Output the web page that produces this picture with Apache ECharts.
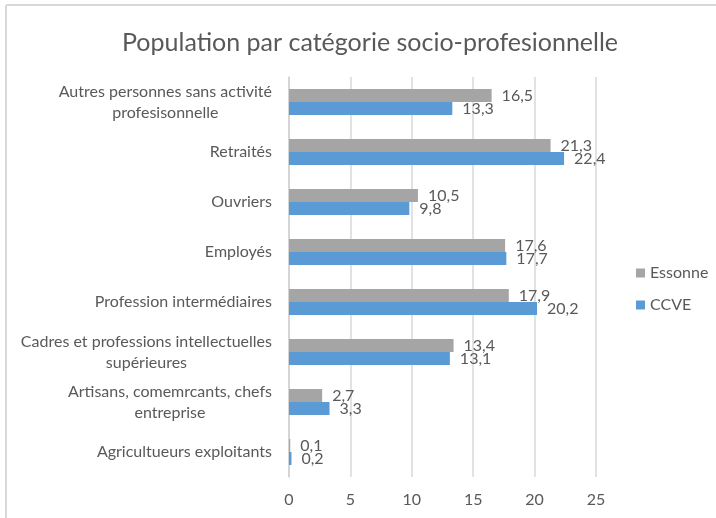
<!DOCTYPE html>
<html>
<head>
<meta charset="utf-8">
<script src="https://cdn.jsdelivr.net/npm/echarts@6/dist/echarts.min.js"></script>
<style>
  html, body { margin: 0; padding: 0; background: #fff; }
  #chart { width: 716px; height: 518px; }
</style>
</head>
<body>
<div id="chart"></div>
<script>
// categories, bottom to top
const categories = [
  'Agricultueurs exploitants',
  'Artisans, comemrcants, chefs\nentreprise',
  'Cadres et professions intellectuelles\nsupérieures',
  'Profession intermédiaires',
  'Employés',
  'Ouvriers',
  'Retraités',
  'Autres personnes sans activité\nprofesisonnelle'
]
const essonne = [0.1, 2.7, 13.4, 17.9, 17.6, 10.5, 21.3, 16.5]
const ccve = [0.2, 3.3, 13.1, 20.2, 17.7, 9.8, 22.4, 13.3]
const xTicks = [0, 5, 10, 15, 20, 25]

const font = 'Lato, "Open Sans", sans-serif'
const textColor = '#595959'

const myChart = echarts.init(document.getElementById('chart'))

// value labels with a comma as decimal separator
const valueLabel = {
  show: true,
  position: 'right',
  distance: 10,
  color: textColor,
  fontFamily: font,
  fontSize: 16,
  formatter: p => String(p.value).replace('.', ',')
}

const option = {
  animation: false,
  backgroundColor: '#fff',
  title: {
    text: 'Population par catégorie socio-profesionnelle',
    left: 117,
    top: 25,
    textStyle: { color: textColor, fontFamily: font, fontSize: 25, fontWeight: 'normal' }
  },
  legend: {
    orient: 'vertical',
    left: 636,
    top: 265,
    padding: 0,
    itemGap: 16,
    itemWidth: 9,
    itemHeight: 9,
    icon: 'rect',
    textStyle: { color: textColor, fontFamily: font, fontSize: 16 },
    data: ['Essonne', 'CCVE']
  },
  graphic: [
    { type: 'line', shape: { x1: 6, y1: 5, x2: 716, y2: 5 }, style: { stroke: '#d9d9d9', lineWidth: 2 } },
    { type: 'line', shape: { x1: 6, y1: 5, x2: 6, y2: 518 }, style: { stroke: '#d9d9d9', lineWidth: 2 } }
  ],
  grid: { left: 289, right: 120, top: 77, bottom: 41 },
  xAxis: {
    type: 'value',
    min: xTicks[0],
    max: xTicks[xTicks.length - 1],
    interval: 5,
    axisLine: { show: false },
    axisTick: { show: false },
    splitLine: { lineStyle: { color: '#d9d9d9', width: 1.5 } },
    axisLabel: { color: textColor, fontFamily: font, fontSize: 16, margin: 15 }
  },
  yAxis: {
    type: 'category',
    data: categories,
    axisLine: { lineStyle: { color: '#d0d0d0', width: 1.5 } },
    axisTick: { show: false },
    axisLabel: {
      color: textColor,
      fontFamily: font,
      fontSize: 16,
      margin: 17,
      lineHeight: 21,
      // centre wrapped lines within the label block
      formatter: v => v.split('\n').map(s => '{c|' + s + '}').join('\n'),
      rich: { c: { align: 'center', color: textColor, fontFamily: font, fontSize: 16, lineHeight: 21 } }
    }
  },
  series: [
    {
      name: 'Essonne',
      type: 'bar',
      data: essonne,
      barWidth: 13,
      barGap: '0%',
      itemStyle: { color: '#a5a5a5' },
      label: valueLabel
    },
    {
      name: 'CCVE',
      type: 'bar',
      data: ccve,
      barWidth: 13,
      barGap: '0%',
      itemStyle: { color: '#5b9bd5' },
      label: valueLabel
    }
  ]
}

myChart.setOption(option)
</script>
</body>
</html>
